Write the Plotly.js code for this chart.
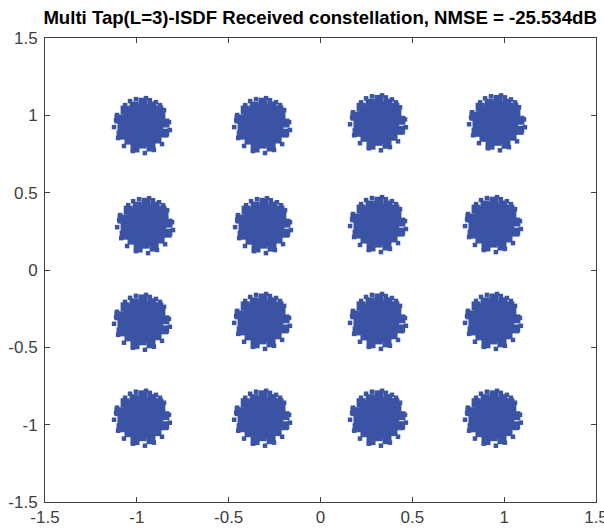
<!DOCTYPE html>
<html>
<head>
<meta charset="utf-8">
<script src="https://cdn.plot.ly/plotly-3.0.1.min.js"></script>
<style>
  html, body { margin: 0; padding: 0; background: #fff; }
  #chart { width: 604px; height: 532px; }
</style>
</head>
<body>
<div id="chart"></div>
<script>
// Centre of each received 16-QAM cluster (in-phase, quadrature), row by row
const clusterI = [-0.972, -0.318, 0.313, 0.961,
                  -0.955, -0.313, 0.313, 0.939,
                  -0.972, -0.318, 0.313, 0.939,
                  -0.972, -0.318, 0.313, 0.939];
const clusterQ = [0.937, 0.937, 0.955, 0.955,
                  0.290, 0.290, 0.297, 0.297,
                  -0.335, -0.329, -0.329, -0.329,
                  -0.955, -0.955, -0.955, -0.955];

// Spread of received samples around a cluster centre: dense body
const bodyDI = [0.125, 0.103, 0.092, 0.054, 0.005, -0.043, -0.092, -0.125,
                -0.109, -0.114, -0.071, -0.038, 0.000, 0.049, 0.082, 0.120];
const bodyDQ = [0.013, 0.058, 0.097, 0.123, 0.148, 0.123, 0.097, 0.039,
                -0.013, -0.065, -0.097, -0.148, -0.123, -0.142, -0.090, -0.052];

// ...and scattered outlying samples at the edge of each cloud
const edgeDI = [0.147, 0.136, 0.120, 0.076, 0.022, -0.033, -0.092, -0.136, -0.152, -0.130,
                -0.098, -0.049, 0.016, 0.065, 0.109, 0.152, -0.141, 0.043, -0.065, 0.098];
const edgeDQ = [0.019, -0.058, 0.097, 0.148, 0.174, 0.168, 0.129, 0.065, -0.013, -0.084,
                -0.135, -0.168, -0.181, -0.161, -0.123, -0.032, 0.032, 0.161, 0.155, 0.129];

const xTicks = [-1.5, -1, -0.5, 0, 0.5, 1, 1.5];
const tickText = ['-1.5', '-1', '-0.5', '0', '0.5', '1', '1.5'];

const markerColor = '#3a53a4';

function spread(dI, dQ) {
  const xs = [], ys = [];
  for (let c = 0; c < clusterI.length; c++) {
    for (let k = 0; k < dI.length; k++) {
      xs.push(clusterI[c] + dI[k]);
      ys.push(clusterQ[c] + dQ[k]);
    }
  }
  return { xs, ys };
}

const body = spread(bodyDI, bodyDQ);
const edge = spread(edgeDI, edgeDQ);

const traces = [
  { type: 'scatter', mode: 'markers', x: clusterI, y: clusterQ, hoverinfo: 'skip',
    marker: { symbol: 'circle', size: 43, color: markerColor, line: { width: 0 } } },
  { type: 'scatter', mode: 'markers', x: body.xs, y: body.ys, hoverinfo: 'skip',
    marker: { symbol: 'square', size: 9, color: markerColor, line: { width: 0 } } },
  { type: 'scatter', mode: 'markers', x: edge.xs, y: edge.ys, hoverinfo: 'skip',
    marker: { symbol: 'square', size: 4.5, color: markerColor, line: { width: 0 } } }
];

const axisCommon = {
  range: [-1.5, 1.5],
  tickvals: xTicks,
  ticktext: tickText,
  ticks: 'inside',
  ticklen: 5,
  tickwidth: 1,
  tickcolor: '#404040',
  showline: true,
  linecolor: '#404040',
  linewidth: 1,
  mirror: 'ticks',
  showgrid: false,
  zeroline: false,
  ticklabeloverflow: 'allow',
  tickfont: { family: 'Liberation Sans, Arial, sans-serif', size: 17, color: '#404040' }
};

const layout = {
  width: 604,
  height: 532,
  margin: { l: 45, r: 8, t: 38, b: 30 },
  paper_bgcolor: '#fff',
  plot_bgcolor: '#fff',
  showlegend: false,
  title: {
    text: '<b>Multi Tap(L=3)-ISDF Received constellation, NMSE = -25.534dB</b>',
    font: { family: 'Liberation Sans, Arial, sans-serif', size: 18.6, color: '#000' },
    x: 0.53, xanchor: 'center', y: 0.968, yanchor: 'middle'
  },
  xaxis: Object.assign({}, axisCommon),
  yaxis: Object.assign({}, axisCommon, { ticklabelstandoff: 3 })
};

Plotly.newPlot('chart', traces, layout, { displayModeBar: false, staticPlot: true });
</script>
</body>
</html>
